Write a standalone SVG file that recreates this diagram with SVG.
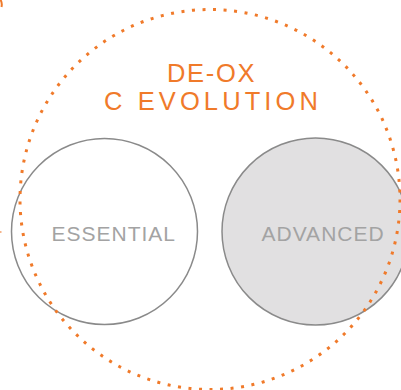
<svg xmlns="http://www.w3.org/2000/svg" width="401" height="390" viewBox="0 0 401 390">
  <style>
    .set { stroke: #8a8a8a; stroke-width: 1.5; }
    .label { font-family: "Liberation Sans", Arial, sans-serif; font-size: 21px; fill: #a3a3a3; letter-spacing: 1px; }
    .title { font-family: "Liberation Sans", Arial, sans-serif; font-size: 25.5px; fill: #f07a2a; }
    .dots { fill: none; stroke: #f07a2a; stroke-width: 3; stroke-dasharray: 3 7.565; }
  </style>
  <rect width="401" height="390" fill="#ffffff"/>
  <g id="edge-marks">
    <path d="M0,-1 A10,10 0 0 1 1.5,7" fill="none" stroke="#f07a2a" stroke-width="2"/>
    <rect x="0" y="231" width="1.5" height="2" fill="#f5b48a"/>
  </g>
  <g id="essential">
    <circle class="set" cx="104.5" cy="231.5" r="93" fill="#ffffff"/>
    <text class="label" x="51.5" y="241">ESSENTIAL</text>
  </g>
  <g id="advanced">
    <circle class="set" cx="315.5" cy="231.5" r="93.5" fill="#e1e0e1"/>
    <text class="label" x="261.5" y="241" letter-spacing="1.8">ADVANCED</text>
  </g>
  <g id="deox-evolution">
    <circle class="dots" cx="210" cy="199.5" r="190"/>
    <text class="title" x="167" y="81.5" letter-spacing="1.7">DE-OX</text>
    <text class="title" x="104" y="110" letter-spacing="4.1">C EVOLUTION</text>
  </g>
</svg>
